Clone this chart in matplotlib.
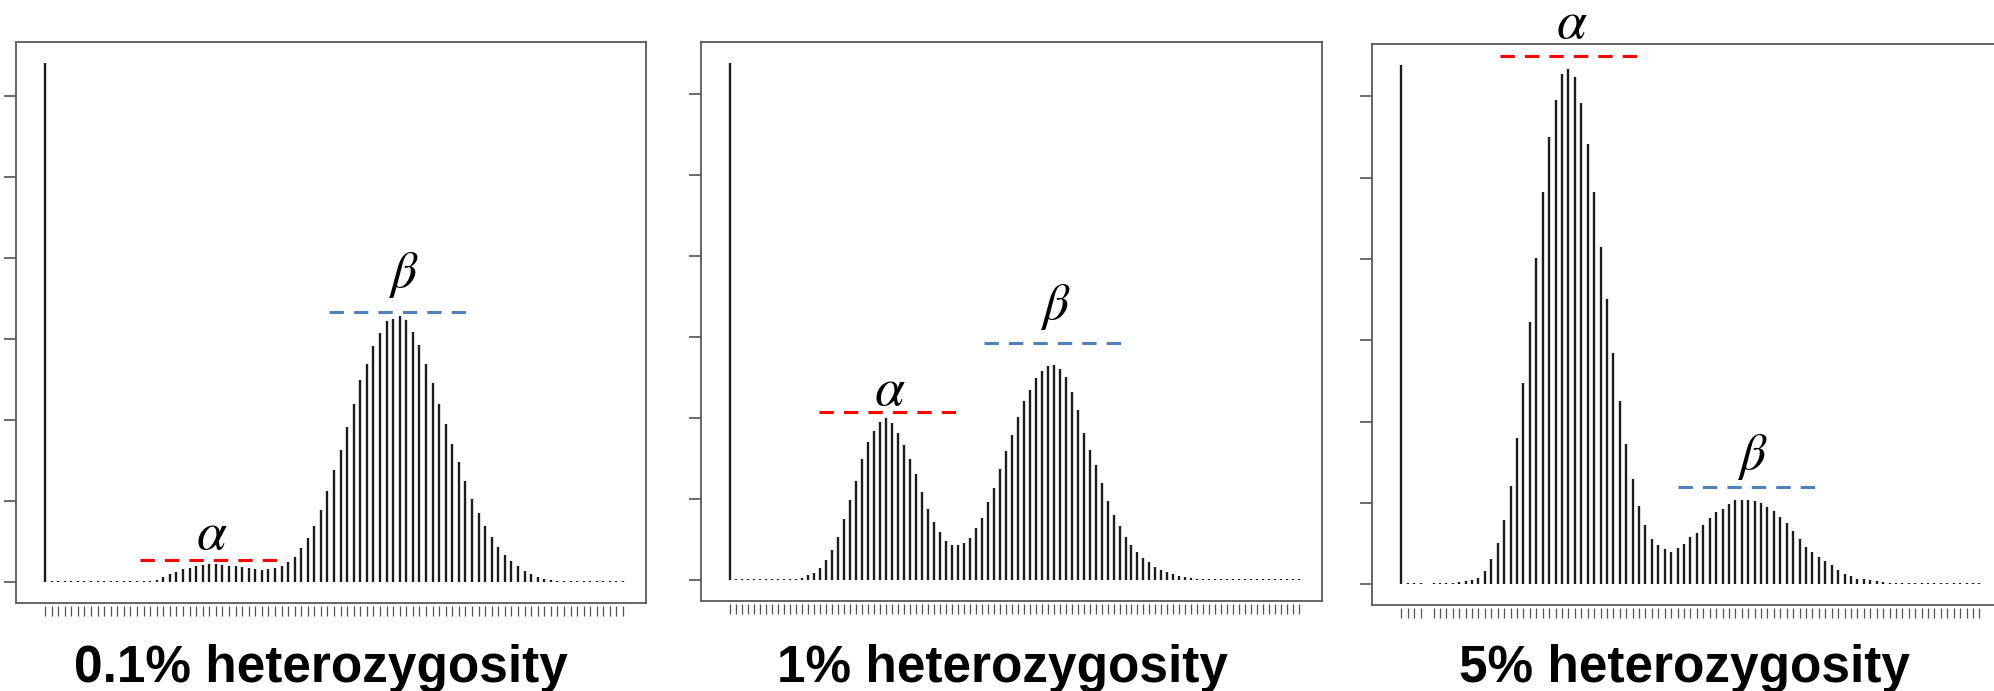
import numpy as np
import matplotlib
matplotlib.use("Agg")
import matplotlib.pyplot as plt

plt.rcParams['mathtext.fontset'] = 'stix'

titles = ['0.1% heterozygosity', '1% heterozygosity', '5% heterozygosity']

# k-mer frequency histograms, first bar is the error spike
het_01 = [6.41] + [0.02] * 16 + [
    0.03, 0.06, 0.10, 0.13, 0.16, 0.18, 0.20, 0.21, 0.22, 0.22,
    0.21, 0.20, 0.20, 0.19, 0.18, 0.16, 0.15, 0.16, 0.17, 0.20,
    0.25, 0.31, 0.42, 0.55, 0.69, 0.89, 1.12, 1.38, 1.63, 1.92,
    2.20, 2.49, 2.69, 2.92, 3.08, 3.22, 3.25, 3.28, 3.24, 3.09,
    2.93, 2.69, 2.46, 2.20, 1.95, 1.71, 1.48, 1.25, 1.03, 0.85,
    0.69, 0.56, 0.44, 0.33, 0.26, 0.20, 0.14, 0.10, 0.06, 0.04,
    0.03] + [0.02] * 11
het_1 = [6.38] + [0.02] * 11 + [
    0.03, 0.06, 0.09, 0.15, 0.25, 0.37, 0.53, 0.76, 0.99, 1.23,
    1.49, 1.70, 1.84, 1.95, 2.00, 1.94, 1.82, 1.67, 1.50, 1.31,
    1.09, 0.88, 0.72, 0.59, 0.49, 0.44, 0.43, 0.46, 0.52, 0.64,
    0.77, 0.96, 1.14, 1.37, 1.59, 1.79, 2.01, 2.21, 2.35, 2.49,
    2.58, 2.64, 2.66, 2.60, 2.51, 2.32, 2.10, 1.82, 1.61, 1.42,
    1.20, 0.98, 0.80, 0.67, 0.53, 0.44, 0.35, 0.27, 0.22, 0.16,
    0.13, 0.10, 0.08, 0.05, 0.04, 0.03] + [0.02] * 18
het_5 = [6.39, 0.02, 0.02, 0.02, 0.02, 0.02, 0.02, 0.02, 0.03, 0.04,
         0.05, 0.08, 0.16, 0.31, 0.51, 0.79, 1.21, 1.80, 2.48, 3.22,
         4.01, 4.83, 5.50, 5.96, 6.27, 6.34, 6.24, 5.92, 5.42, 4.83,
         4.15, 3.51, 2.84, 2.25, 1.72, 1.29, 0.96, 0.73, 0.55, 0.48,
         0.43, 0.40, 0.45, 0.50, 0.58, 0.63, 0.73, 0.82, 0.89, 0.93,
         0.99, 1.03, 1.04, 1.04, 1.02, 1.00, 0.95, 0.90, 0.83, 0.75,
         0.66, 0.56, 0.46, 0.39, 0.33, 0.28, 0.23, 0.18, 0.13, 0.10,
         0.07, 0.06, 0.05, 0.04, 0.03] + [0.02] * 15

cov_01 = list(range(len(het_01)))
cov_1 = list(range(len(het_1)))
cov_5 = [0, 1, 2, 3] + list(range(5, len(het_5) + 1))

# heights of the homozygous (alpha) and heterozygous (beta) peak markers
alpha_level = [0.27, 2.08, 6.50]
beta_level = [3.33, 2.93, 1.19]

# layout: axes rects, x limits, marker spans and label positions
rects = [[0.0078, 0.1274, 0.3162, 0.8119],
         [0.3518, 0.1302, 0.3112, 0.8090],
         [0.6880, 0.1245, 0.3150, 0.8119]]
xlims = [(-4.49, 91.5), (-4.77, 98.8), (-4.6, 93.2)]
alpha_span = [(14.4, 35.5), (14.8, 38.0), (15.4, 37.1)]
beta_span = [(43.2, 64.3), (42.3, 65.5), (43.1, 65.0)]
alpha_txt = [(25.4, 0.59), (26.7, 2.35), (26.6, 6.9)]
beta_txt = [(54.6, 3.79), (54.2, 3.37), (54.6, 1.57)]
title_x = [0.161, 0.503, 0.845]

fig = plt.figure(figsize=(19.94, 6.91), dpi=100)

data = [(cov_01, het_01), (cov_1, het_1), (cov_5, het_5)]
for i, (cov, counts) in enumerate(data):
    ax = fig.add_axes(rects[i])
    counts = np.array(counts)
    ax.vlines(cov, 0, counts, colors='#1c1c1c', linewidth=1.7)
    ax.set_xlim(*xlims[i])
    top = counts.max()
    ax.set_ylim(-0.04 * top, 1.04 * top)

    ax.hlines(alpha_level[i], *alpha_span[i], colors='#ff0000',
              linewidth=2.2, linestyles=(0, (4.7, 3.3)))
    ax.hlines(beta_level[i], *beta_span[i], colors='#4f81bd',
              linewidth=2.2, linestyles=(0, (4.7, 3.3)))
    ax.text(*alpha_txt[i], r'$\alpha$', fontsize=39, ha='center',
            va='center', clip_on=False)
    ax.text(*beta_txt[i], r'$\beta$', fontsize=37, ha='center',
            va='center', clip_on=False)

    for sp in ax.spines.values():
        sp.set_color('#5a5a5a')
        sp.set_linewidth(1.3)
    ax.set_yticks(range(7))
    ax.tick_params(axis='y', length=8.5, width=1.1, color='#444444',
                   labelleft=False)
    ax.tick_params(axis='x', bottom=False, labelbottom=False)

    sec = ax.secondary_xaxis(-0.006)
    sec.spines['bottom'].set_visible(False)
    sec.set_xticks(cov)
    sec.tick_params(axis='x', length=7, width=0.9, color='#555555',
                    labelbottom=False)

    fig.text(title_x[i], 0.013, titles[i], fontsize=37, fontweight='bold',
             family='Liberation Sans', ha='center', va='baseline')

fig.savefig('out.png', dpi=100)
